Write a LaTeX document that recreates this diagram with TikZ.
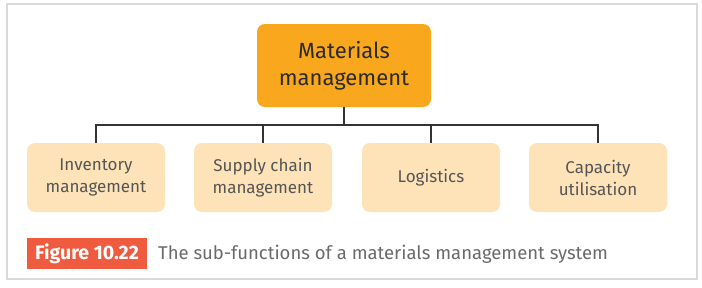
\documentclass[tikz,border=0pt]{standalone}
\usepackage{fontspec}
\setmainfont{Fira Sans}
\begin{document}
\begin{tikzpicture}[x=1pt,y=-1pt,
  topbox/.style={draw=none,fill=mainorange,rounded corners=8pt,minimum width=174pt,minimum height=83pt,align=center,text=titletext,font=\fontsize{22}{27}\selectfont,inner sep=0pt},
  subbox/.style={draw=none,fill=peach,rounded corners=8pt,minimum width=138pt,minimum height=69pt,align=center,text=subtext,font=\fontsize{17}{22}\selectfont,inner sep=0pt},
  conn/.style={draw=linecol,line width=1.1pt}]
\definecolor{mainorange}{HTML}{F9A71C}
\definecolor{peach}{HTML}{FEE3B9}
\definecolor{titletext}{HTML}{2B2B2B}
\definecolor{subtext}{HTML}{555555}
\definecolor{linecol}{HTML}{333333}
\definecolor{framecol}{HTML}{DADADA}
\definecolor{capred}{HTML}{EF5B3E}
\definecolor{captext}{HTML}{6A6A6A}
\useasboundingbox (0,0) rectangle (702,287);
\fill[white] (0,0) rectangle (702,287);
\draw[framecol,line width=2pt] (7,4) rectangle (697,279);
\node[topbox] (mm) at (344,65.5) {Materials\\management};
\node[subbox] (inv) at (96,177.5) {Inventory\\management};
\node[subbox] (scm) at (263,177.5) {Supply chain\\management};
\node[subbox] (log) at (431,177.5) {Logistics};
\node[subbox] (cap) at (598,177.5) {Capacity\\utilisation};
\coordinate (bus) at (344,125);
\draw[conn] (mm.south) -- (bus);
\draw[conn] (inv.north) |- (bus) -| (cap.north);
\draw[conn] (scm.north) -- (scm.north |- bus);
\draw[conn] (log.north) -- (log.north |- bus);
\node[fill=capred,text=white,font=\fontsize{19.5}{22}\selectfont\bfseries,minimum width=120pt,minimum height=31pt,inner sep=0pt] (fig) at (87,253.5) {Figure 10.22};
\node[anchor=west,text=captext,font=\fontsize{18.5}{22}\selectfont,inner sep=0pt] (capt) at (158,254) {The sub-functions of a materials management system};
\end{tikzpicture}
\end{document}
